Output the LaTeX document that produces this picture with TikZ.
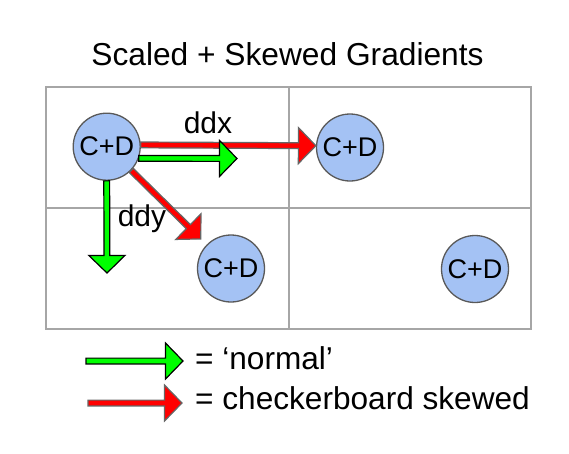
\documentclass[tikz,border=0pt]{standalone}
\usepackage{fontspec}
\setmainfont{Liberation Sans}
\usetikzlibrary{calc}
\definecolor{cdblue}{HTML}{A4C2F4}
\definecolor{cdline}{HTML}{595959}
\definecolor{gridgray}{HTML}{A6A6A6}
\definecolor{arrgreen}{HTML}{00FF00}
\definecolor{arrred}{HTML}{FF0000}
\definecolor{redline}{HTML}{666666}
\newcommand\blockarrow[3]{%
  \coordinate (hbA) at ($(#2)!17.5pt!(#1)$);
  \path[#3] ($(#1)!2.9pt!90:(#2)$) -- ($(hbA)!2.9pt!90:(#2)$) -- ($(hbA)!18pt!90:(#2)$)
    -- (#2) -- ($(hbA)!18pt!-90:(#2)$) -- ($(hbA)!2.9pt!-90:(#2)$)
    -- ($(#1)!2.9pt!-90:(#2)$) -- cycle;
}
\tikzset{
  cd/.style={circle, minimum size=67pt, inner sep=0pt, fill=cdblue, draw=cdline,
    line width=1.3pt, font=\fontsize{27}{30}\selectfont},
  gridline/.style={draw=gridgray, line width=1.5pt},
  greenarr/.style={fill=arrgreen, draw=black, line width=1.2pt, line join=miter},
  redarr/.style={fill=arrred, draw=redline, line width=1.2pt, line join=miter},
  lbl/.style={anchor=base, inner sep=0pt, font=\fontsize{30}{34}\selectfont},
  legendtxt/.style={anchor=base west, inner sep=0pt, font=\fontsize{31.6}{36}\selectfont},
}
\begin{document}
\begin{tikzpicture}[x=1pt, y=-1pt]
\useasboundingbox (0,0) rectangle (569,453);
% title
\node[anchor=base, inner sep=0pt, font=\fontsize{31.7}{36}\selectfont] (title) at (287.5,65) {Scaled + Skewed Gradients};
% grid
\draw[gridline] (46,87) rectangle (531,329);
\draw[gridline] (289,87) -- (289,329);
\draw[gridline] (46,208) -- (531,208);
% circles
\node[cd] (c1) at (106.7,146.7) {C+D};
\node[cd] (c2) at (350,147.5) {C+D};
\node[cd] (c4) at (231,268.5) {C+D};
\node[cd] (c3) at (475,269) {C+D};
% arrow free ends
\coordinate (gx) at (237,158.5);
\coordinate (gy) at (107,273);
\coordinate (rd) at ($(c1)!0.757!(c4)$);
% arrows
\blockarrow{c1.3}{c2.177}{redarr}
\blockarrow{c1.-20}{gx}{greenarr}
\blockarrow{c1.south}{gy}{greenarr}
\blockarrow{c1.-44}{rd}{redarr}
% labels
\node[lbl] (ddx) at (208,133) {ddx};
\node[lbl] (ddy) at (142,226.7) {ddy};
% legend
\coordinate (lg1s) at (86,361);
\coordinate (lg1e) at (183,361);
\coordinate (lg2s) at (88,403);
\coordinate (lg2e) at (182,403);
\blockarrow{lg1s}{lg1e}{greenarr}
\blockarrow{lg2s}{lg2e}{redarr}
\node[legendtxt] (lt1) at (195,369) {= ‘normal’};
\node[legendtxt] (lt2) at (195,409.3) {= checkerboard skewed};
\end{tikzpicture}
\end{document}
